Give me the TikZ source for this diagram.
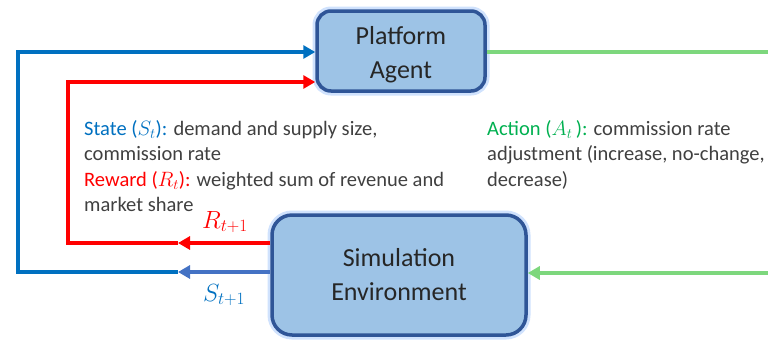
\documentclass[tikz,border=0pt]{standalone}
\usepackage{fontspec}
\setmainfont{Carlito}
\usetikzlibrary{arrows.meta}

\definecolor{stateblue}{RGB}{0,112,192}
\definecolor{paleblue}{RGB}{68,114,196}
\definecolor{rewardred}{RGB}{255,0,0}
\definecolor{actgreen}{RGB}{125,215,125}
\definecolor{acttext}{RGB}{0,176,80}
\definecolor{boxfill}{RGB}{157,195,230}
\definecolor{boxedge}{RGB}{47,85,151}
\definecolor{glow}{RGB}{150,190,250}
\definecolor{bodytext}{RGB}{64,64,64}

\begin{document}
\begin{tikzpicture}[x=1pt,y=-1pt]
\tikzstyle{block} = [rectangle, draw=boxedge, line width=3.5pt, fill=boxfill,
text=black!85, align=center, font=\fontsize{26}{34}\selectfont,
preaction={draw=glow, line width=9pt, opacity=0.45}]
\tikzstyle{note} = [anchor=north west, align=left, inner sep=0pt,
text=bodytext, font=\fontsize{20.5}{25.5}\selectfont]
\tikzstyle{sub} = [inner sep=0pt, font=\fontsize{23}{23}\selectfont]
\tikzstyle{line} = [line width=4pt, -{Triangle[length=12pt,width=13pt]}]

\useasboundingbox (0,0) rectangle (768,341);

% the two boxes
\node [block, rounded corners=14pt, minimum width=168pt, minimum height=80pt]
  (agent) at (401,51) {\rule{0pt}{25pt}Platform\\Agent};
\node [block, rounded corners=20pt, minimum width=254pt, minimum height=120pt]
  (env) at (399,275) {Simulation\\Environment};

% corners of the feedback loops
\coordinate (sfar) at (18,272);
\coordinate (stop) at (18,52);
\coordinate (smid) at (178,272);
\coordinate (rfar) at (68,243);
\coordinate (rtop) at (68,82);
\coordinate (rmid) at (178,243);
\coordinate (aout) at (775,52);
\coordinate (ain) at (775,273);

% state
\draw [line, draw=paleblue, fill=paleblue] (env.west |- smid) -- (smid);
\draw [line, draw=stateblue] (smid) -- (sfar) -- (stop) -- (agent.west |- stop);
% reward
\draw [line, draw=rewardred] (env.west |- rmid) -- (rmid);
\draw [line, draw=rewardred] (rmid) -- (rfar) -- (rtop) -- (agent.west |- rtop);
% action
\draw [line width=4pt, draw=actgreen] (agent.east |- aout) -- (aout);
\draw [line, draw=actgreen] (ain) -- (env.east |- ain);

\node [sub, text=rewardred] (rlab) at (225,222) {$R_{t+1}$};
\node [sub, text=stateblue] (slab) at (224,295) {$S_{t+1}$};

\node [note] (obs) at (84,120)
  {\textcolor{stateblue}{State ($S_t$):} demand and supply size,\\
   commission rate\\
   \textcolor{rewardred}{Reward ($R_t$):} weighted sum of revenue and\\
   market share};
\node [note] (act) at (487,120)
  {\textcolor{acttext}{Action ($A_t$\,):} commission rate\\
   adjustment (increase, no-change,\\
   decrease)};
\end{tikzpicture}
\end{document}
